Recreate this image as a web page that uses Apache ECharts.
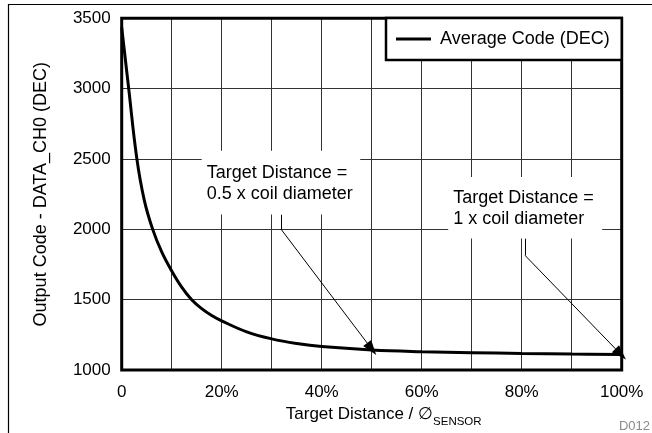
<!DOCTYPE html>
<html>
<head>
<meta charset="utf-8">
<script src="https://cdn.jsdelivr.net/npm/echarts@6/dist/echarts.min.js"></script>
<style>
html,body{margin:0;padding:0;background:#fff;}
#c{width:652px;height:433px;}
</style>
</head>
<body>
<div id="c"></div>
<script>
// ---- data ----
var distancePct = [0, 1.4, 3, 4.5, 6.2, 8, 10, 12, 14, 16, 18, 20, 25, 30, 35, 40, 50, 60, 70, 80, 90, 100];
var avgCode =     [3435, 3000, 2510, 2210, 2000, 1840, 1705, 1590, 1500, 1437, 1388, 1350, 1272, 1222, 1189, 1167, 1143, 1131, 1124, 1118, 1114, 1111];
var xTicks = [0, 20, 40, 60, 80, 100];
var yTicks = [1000, 1500, 2000, 2500, 3000, 3500];
var seriesName = 'Average Code (DEC)';
var xAxisTitle = 'Target Distance / ';
var xAxisSub = 'SENSOR';
var yAxisTitle = 'Output Code - DATA_CH0 (DEC)';
var figureId = 'D012';
// annotations (data coordinates)
var ann1Text = ['Target Distance =', '0.5 x coil diameter'];
var ann1Box = [[16, 2559], [47.7, 2105]];
var ann1Path = [[31.9, 2105], [31.9, 2000], [50, 1150]];
var ann2Text = ['Target Distance =', '1 x coil diameter'];
var ann2Box = [[65.3, 2373], [96.1, 1936]];
var ann2Path = [[80.7, 1936], [80.7, 1814], [99.8, 1113]];

var points = distancePct.map(function (d, i) { return [d, avgCode[i]]; });
var FONT = 'Liberation Sans, Arial, sans-serif';

function arrowLines(p) {
  return [
    [{coord: p[0], symbol: 'none'}, {coord: p[1], symbol: 'none'}],
    [{coord: p[1], symbol: 'none'}, {coord: p[2], symbol: 'triangle', symbolSize: [10, 15]}]
  ];
}

var chart = echarts.init(document.getElementById('c'), null, {renderer: 'canvas'});
var option = {
  animation: false,
  textStyle: {fontFamily: FONT},
  grid: {left: 121.7, right: 30.3, top: 18.3, bottom: 60.3, show: true, borderColor: '#000', borderWidth: 3, backgroundColor: 'transparent', z: 3},
  legend: {
    show: true,
    left: 386, top: 18,
    data: [seriesName],
    backgroundColor: '#fff',
    borderColor: '#000', borderWidth: 2.5,
    padding: [12, 12, 12, 10],
    itemWidth: 35, itemHeight: 14,
    icon: 'path://M0,5.5 L35,5.5 L35,8.5 L0,8.5 Z',
    itemStyle: {color: '#000'},
    textStyle: {fontSize: 18, color: '#000', fontFamily: FONT, padding: [0, 0, 0, 4]},
    z: 10
  },
  xAxis: {
    type: 'value', min: 0, max: 100, interval: 10,
    axisLine: {show: false}, axisTick: {show: false},
    splitLine: {show: true, lineStyle: {color: '#333', width: 1}},
    axisLabel: {
      fontSize: 17, color: '#000', fontFamily: FONT, margin: 14,
      formatter: function (v) {
        if (xTicks.indexOf(v) < 0) return '';
        return v === 0 ? '0' : v + '%';
      }
    },
    name: '{m|' + xAxisTitle + '\u2205}{s|' + xAxisSub + '}',
    nameLocation: 'middle', nameGap: 32,
    nameTextStyle: {
      padding: [0, 0, 0, 24],
      rich: {
        m: {fontSize: 17, color: '#000', fontFamily: FONT, lineHeight: 22, verticalAlign: 'top'},
        s: {fontSize: 11.5, color: '#000', fontFamily: FONT, lineHeight: 11.5, verticalAlign: 'bottom'}
      }
    }
  },
  yAxis: {
    type: 'value', min: 1000, max: 3500, interval: 500,
    axisLine: {show: false}, axisTick: {show: false},
    splitLine: {show: true, lineStyle: {color: '#333', width: 1}},
    axisLabel: {fontSize: 17, color: '#000', fontFamily: FONT, margin: 11,
      formatter: function (v) { return yTicks.indexOf(v) >= 0 ? String(v) : ''; }},
    name: yAxisTitle, nameLocation: 'middle', nameGap: 72, nameRotate: 90,
    nameTextStyle: {fontSize: 18, color: '#000', fontFamily: FONT}
  },
  series: [{
    name: seriesName, type: 'line', data: points,
    symbol: 'none', smooth: 0.4,
    lineStyle: {color: '#000', width: 3},
    itemStyle: {color: '#000'},
    z: 5,
    markLine: {
      silent: true, animation: false,
      label: {show: false},
      emphasis: {disabled: true},
      lineStyle: {color: '#000', width: 1, type: 'solid'},
      symbol: ['none', 'triangle'],
      data: arrowLines(ann1Path).concat(arrowLines(ann2Path))
    }
  }],
  graphic: {
    elements: [
      {type: 'line', shape: {x1: 8, y1: 4.5, x2: 652, y2: 4.5}, style: {stroke: '#000', lineWidth: 1.2}, silent: true},
      {type: 'line', shape: {x1: 8.5, y1: 4, x2: 8.5, y2: 433}, style: {stroke: '#000', lineWidth: 1.2}, silent: true},
      {type: 'text', right: 2, top: 420, style: {text: figureId, fontSize: 13, fill: '#8a8a8a', fontFamily: FONT}, silent: true}
    ]
  }
};
chart.setOption(option);

function annGraphic(id, box, lines) {
  var p1 = chart.convertToPixel({gridIndex: 0}, box[0]);
  var p2 = chart.convertToPixel({gridIndex: 0}, box[1]);
  var x = Math.min(p1[0], p2[0]), y = Math.min(p1[1], p2[1]);
  var w = Math.abs(p2[0] - p1[0]), h = Math.abs(p2[1] - p1[1]);
  return [
    {type: 'rect', id: id + 'r', z: 50, silent: true, shape: {x: x, y: y, width: w, height: h}, style: {fill: '#fff', stroke: null}},
    {type: 'text', id: id + 't', z: 51, silent: true, x: x + 5, y: y + h / 2 + 1,
      style: {text: lines.join('\n'), fontSize: 18, lineHeight: 21.5, fill: '#000', fontFamily: FONT, verticalAlign: 'middle', align: 'left'}}
  ];
}
chart.setOption({graphic: {elements: option.graphic.elements.concat(annGraphic('a1', ann1Box, ann1Text), annGraphic('a2', ann2Box, ann2Text))}});
</script>
</body>
</html>
